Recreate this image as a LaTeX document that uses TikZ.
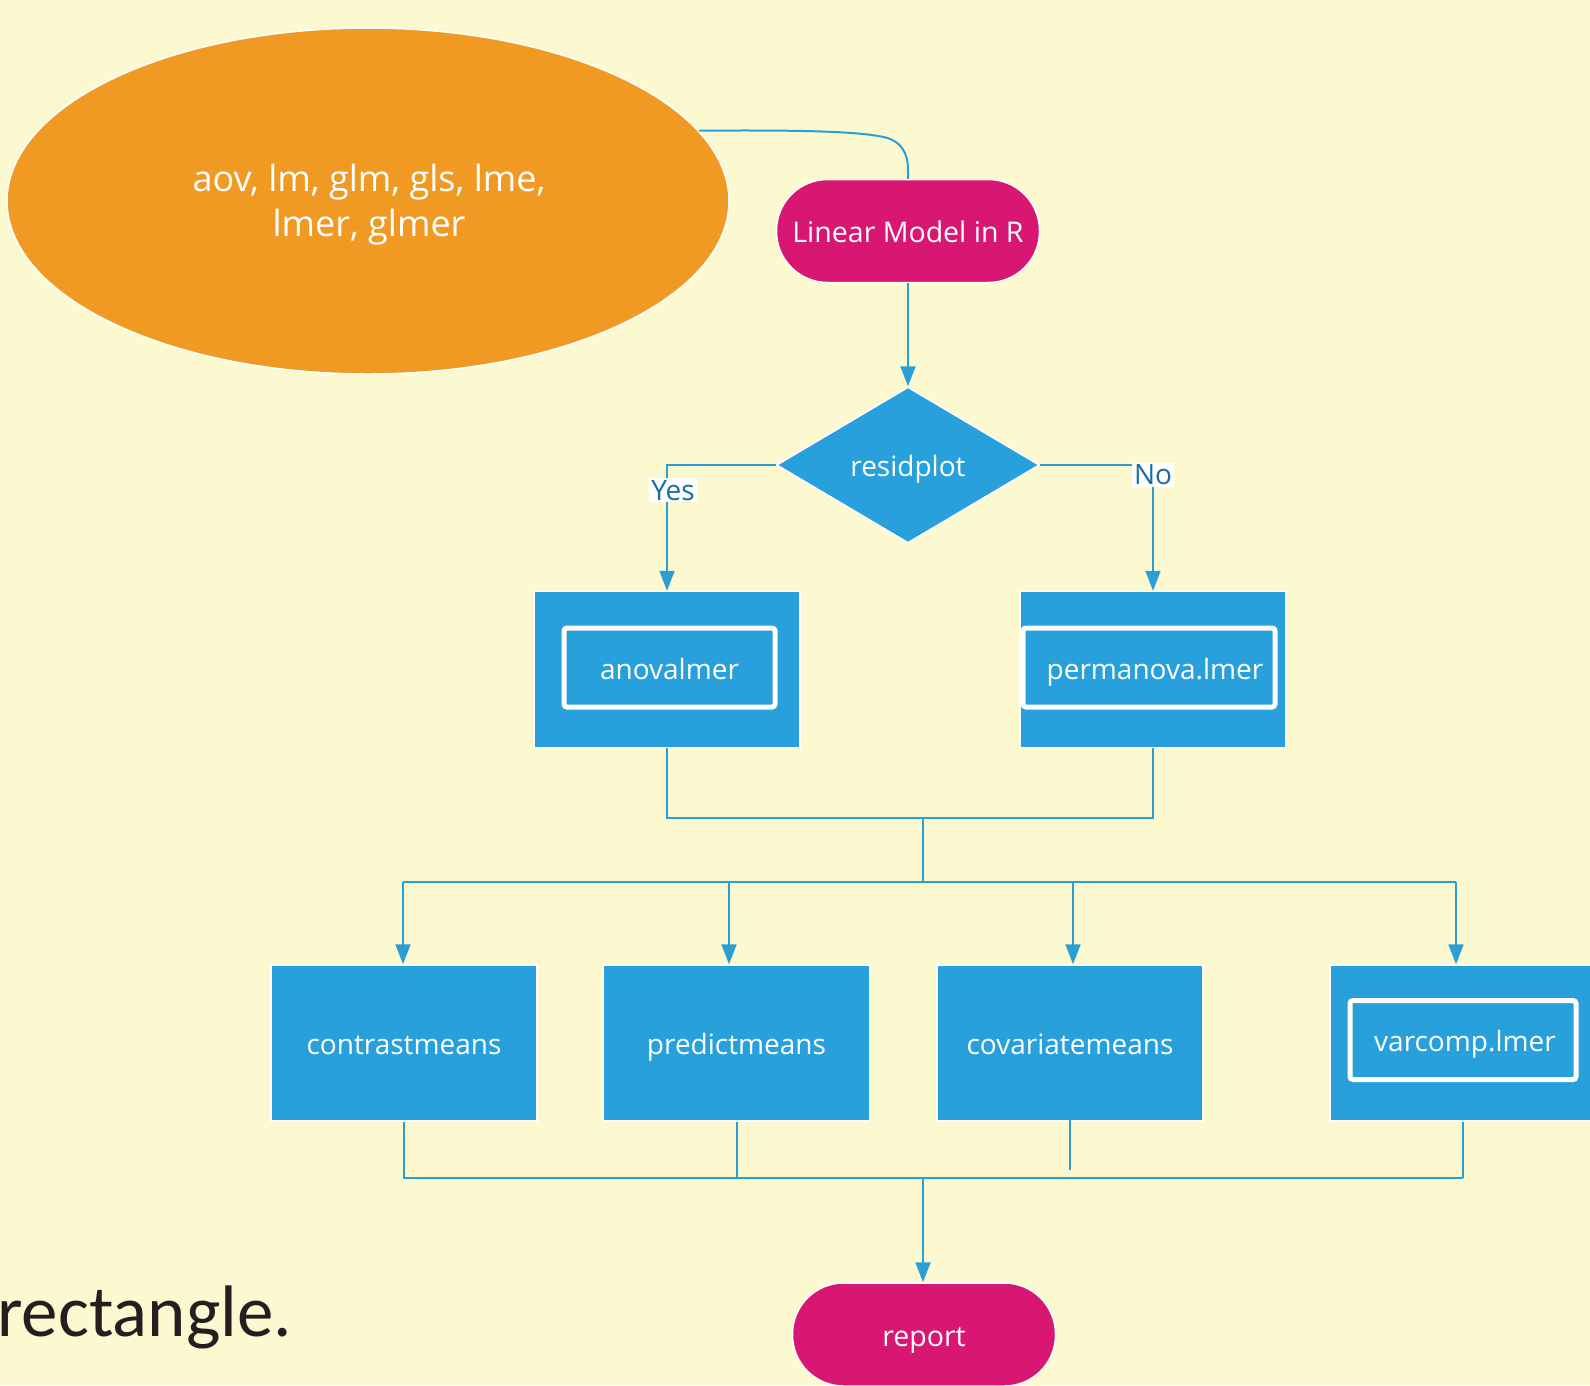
\documentclass[tikz,border=0pt]{standalone}
\usepackage{fontspec}
\setmainfont{Open Sans}
\newfontfamily\carl{Carlito}
\usetikzlibrary{shapes.geometric,arrows.meta}
\definecolor{bg}{HTML}{FCF9D0}
\definecolor{orng}{HTML}{F09A24}
\definecolor{mag}{HTML}{D71772}
\definecolor{blu}{HTML}{28A0DC}
\definecolor{ln}{HTML}{2A9FD6}
\definecolor{lbl}{HTML}{1A6CA5}
\definecolor{dark}{HTML}{231F20}
\begin{document}
\begin{tikzpicture}[x=1pt,y=-1pt,
  conn/.style={draw=ln,line width=2pt},
  arr/.style={conn,-{Triangle[length=20pt,width=15pt]}},
  txt/.style={text height=23pt,text depth=0pt},
  ell/.style={ellipse,fill=orng,draw=white,line width=1.5pt,minimum width=722pt,minimum height=346pt,inner sep=0pt},
  elltext/.style={text=white,align=center,inner sep=0pt,font=\fontsize{36}{45}\selectfont},
  term/.style={txt,fill=mag,draw=white,line width=1.5pt,rounded corners=51pt,minimum width=263pt,minimum height=103pt,inner sep=0pt,text=white,font=\fontsize{28.5}{34}\selectfont},
  dia/.style={txt,diamond,aspect=1.69,fill=blu,draw=white,line width=1.5pt,minimum width=263pt,minimum height=156pt,inner sep=0pt,text=white,font=\fontsize{28}{34}\selectfont},
  proc/.style={txt,fill=blu,draw=white,line width=1.5pt,minimum width=266pt,minimum height=156pt,inner sep=0pt,text=white,font=\fontsize{28}{34}\selectfont},
  inbox/.style={txt,draw=white,line width=5pt,rounded corners=3pt,inner sep=0pt,text=white,font=\fontsize{28}{34}\selectfont},
  lab/.style={fill=white,text=lbl,inner sep=2pt,font=\fontsize{28}{30}\selectfont}
]
\useasboundingbox (0,0) rectangle (1590,1385);
\fill[bg] (0,0) rectangle (1590,1385);

% shapes
\node[ell] (ell) at (368,201) {};
\node[elltext] (elltxt) at (369,205) {aov, lm, glm, gls, lme,\\lmer, glmer};
\node[term] (lm) at (908,231) {Linear Model in R};
\node[dia] (dec) at (908,465) {residplot};
\node[proc] (anv) at (667,669.5) {};
\node[inbox,minimum width=211pt,minimum height=79pt] (anvin) at (669.5,667.5) {anovalmer};
\node[proc] (perm) at (1153,669.5) {};
\node[inbox,minimum width=252pt,minimum height=79pt] (permin) at (1149,667.5) {\hspace*{12pt}permanova.lmer};
\node[proc] (cm) at (404,1043) {contrastmeans};
\node[proc] (pm) at (736.5,1043) {predictmeans};
\node[proc] (cv) at (1070,1043) {covariatemeans};
\node[proc] (vc) at (1463,1043) {};
\node[inbox,minimum width=226pt,minimum height=79pt] (vcin) at (1463,1040) {\hspace*{4pt}varcomp.lmer};
\node[term] (rep) at (924,1334.5) {report};
\node[anchor=base east,inner sep=0pt,text=dark,font=\carl\fontsize{73}{80}\selectfont] (rect) at (292,1336) {rectangle.};

% junction coordinates
\coordinate (j1) at (923,818);
\coordinate (j2) at (923,882);
\coordinate (h1) at (403,882);
\coordinate (h2) at (729,882);
\coordinate (h3) at (1073,882);
\coordinate (h4) at (1456,882);
\coordinate (b1) at (923,1178);

% connectors
\draw[conn] (ell.12) .. controls (790,130) and (850,131) .. (878,136)
  .. controls (903,139) and (908,155) .. (908,170) -- (lm.north);
\draw[arr] (lm) -- (dec);
\draw[arr] (dec.west) -| node[lab,pos=0.6,xshift=6pt] {Yes} (anv.north);
\draw[arr] (dec.east) -| node[lab,pos=0.54] {No} (perm.north);
\draw[conn] (anv.south) |- (j1) -| (perm.south);
\draw[conn] (j1) -- (j2);
\draw[conn] (h1) -- (h4);
\draw[arr] (h1) -- (h1 |- cm.north);
\draw[arr] (h2) -- (h2 |- pm.north);
\draw[arr] (h3) -- (h3 |- cv.north);
\draw[arr] (h4) -- (h4 |- vc.north);
\draw[conn] (cm.south) |- (vc.south |- b1);
\draw[conn] (pm.south) -- (pm.south |- b1);
\draw[conn] ([yshift=7pt]cv.south) -- ([yshift=8pt]cv.south |- b1);
\draw[conn] (vc.south) -- (vc.south |- b1);
\draw[arr] (b1) -- (b1 |- rep.north);
\end{tikzpicture}
\end{document}
